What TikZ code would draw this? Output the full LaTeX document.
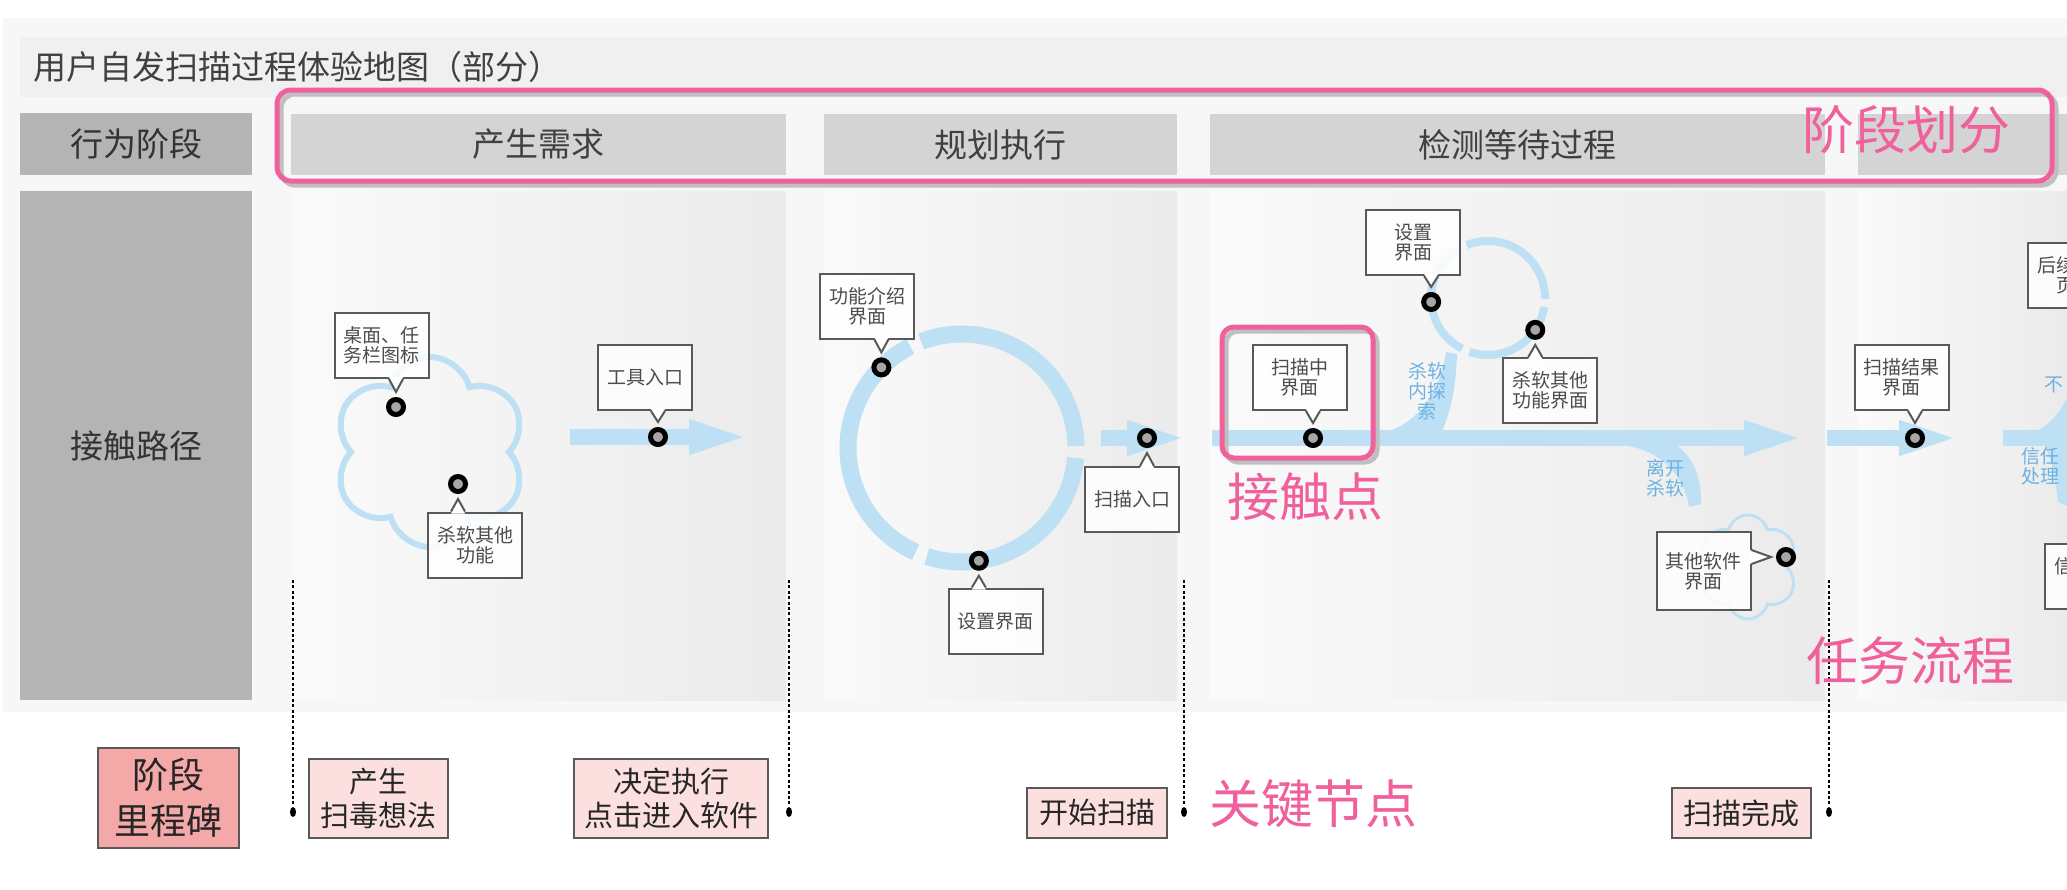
\documentclass[tikz,border=0pt]{standalone}
\usepackage{fontspec}
\setmainfont{Noto Sans CJK SC}
\usetikzlibrary{calc,arrows.meta,shapes.symbols,shapes.geometric}

\definecolor{pinkline}{HTML}{F0609C}
\definecolor{flowblue}{HTML}{BEE0F5}
\definecolor{bluetxt}{HTML}{6CB2E2}
\definecolor{headgray}{HTML}{D4D4D4}
\definecolor{sidegray}{HTML}{B4B4B4}
\definecolor{milefill}{HTML}{FCE0E0}
\definecolor{milehead}{HTML}{F4A8A8}

% callout tails: box, touch point
\newcommand\tailS[2]{%
  \fill[white] ($(#1.south -| #2)+(-7,-2)$) -- ($(#2)+(0,-15)$) -- ($(#1.south -| #2)+(7,-2)$) -- cycle;
  \draw[black!65, line width=1pt] ($(#1.south -| #2)+(-7,0)$) -- ($(#2)+(0,-15)$) -- ($(#1.south -| #2)+(7,0)$);}
\newcommand\tailN[2]{%
  \fill[white] ($(#1.north -| #2)+(-7,2)$) -- ($(#2)+(0,15)$) -- ($(#1.north -| #2)+(7,2)$) -- cycle;
  \draw[black!65, line width=1pt] ($(#1.north -| #2)+(-7,0)$) -- ($(#2)+(0,15)$) -- ($(#1.north -| #2)+(7,0)$);}
\newcommand\tailE[2]{%
  \fill[white] ($(#1.east |- #2)+(-2,-7)$) -- ($(#2)+(-15,0)$) -- ($(#1.east |- #2)+(-2,7)$) -- cycle;
  \draw[black!65, line width=1pt] ($(#1.east |- #2)+(0,-7)$) -- ($(#2)+(-15,0)$) -- ($(#1.east |- #2)+(0,7)$);}

\begin{document}
\begin{tikzpicture}[x=0.5pt,y=-0.5pt,
        bubble/.style={draw=black!65, line width=1pt, fill=white, fill opacity=0.85, text opacity=1,
                text=black!70, minimum width=47pt, minimum height=32.5pt, inner sep=1pt, align=center,
                font=\fontsize{9.5}{10}\selectfont},
        dot/.style={circle, draw=black, line width=2.5pt, fill=black!35, minimum size=7.5pt, inner sep=0pt},
        flow/.style={draw=flowblue, line width=8pt, -{Triangle[length=32pt,width=15pt]}},
        ring/.style={draw=flowblue},
        branch/.style={fill=flowblue},
        bluelabel/.style={text=bluetxt, align=center, font=\fontsize{9.5}{10}\selectfont},
        head/.style={fill=headgray, minimum height=30.5pt, inner sep=0pt, text=black!75, font=\fontsize{16.5}{18}\selectfont},
        side/.style={fill=sidegray, minimum width=116pt, inner sep=0pt, text=black!80, font=\fontsize{16.5}{18}\selectfont},
        panel/.style={left color=black!2, right color=black!8},
        mile/.style={draw=black!65, line width=0.9pt, fill=milefill, align=center, inner sep=0pt,
                text=black!85, font=\fontsize{14.5}{17}\selectfont},
        pinknote/.style={text=pinkline, font=\fontsize{26}{28}\selectfont},
        keyline/.style={line width=0.8pt, dash pattern=on 1.5pt off 1.2pt},
        keydot/.style={ellipse, fill=black, minimum width=3pt, minimum height=5pt, inner sep=0pt}]
                \useasboundingbox (0,0) rectangle (2067,889);
                \clip (0,0) rectangle (2067,889);
                \fill[white] (0,0) rectangle (2067,889);
                \fill[black!3] (3,18) rectangle (2067,712);
                % title
                \fill[black!6] (20,37) rectangle (2067,97);
                \node[anchor=west, text=black!75, font=\fontsize{16.5}{18}\selectfont] (title) at (26,67) {用户自发扫描过程体验地图（部分）};
                % rows
                \node[side, minimum height=31pt] (s1) at (136,144) {行为阶段};
                \node[side, minimum height=254.5pt] (s2) at (136,445.5) {接触路径};
                \node[head, minimum width=247.5pt] (h1) at (538.5,144.5) {产生需求};
                \node[head, minimum width=176.5pt] (h2) at (1000.5,144.5) {规划执行};
                \node[head, minimum width=307.5pt] (h3) at (1517.5,144.5) {检测等待过程};
                \fill[headgray] (1858,114) rectangle (2067,175);
                \fill[panel] (291,191) rectangle (786,700);
                \fill[panel] (824,191) rectangle (1177,700);
                \fill[panel] (1210,191) rectangle (1825,700);
                \fill[panel] (1858,191) rectangle (2067,700);

                % flows
                \node[cloud, cloud puffs=6, aspect=1, draw=flowblue, line width=3pt, minimum width=97pt, minimum height=95pt] (cl1) at (430,452) {};
                \node[cloud, cloud puffs=6, aspect=1, draw=flowblue, line width=1.5pt, minimum width=50pt, minimum height=52pt] (cl2) at (1748,567) {};
                \coordinate (c1) at (962,448);
                \coordinate (c2) at (1488,298);
                \foreach \a/\b in {5/108,114/243,249/359}
                        \draw[ring, line width=8.5pt] ($(c1)+(\a:114)$) arc[start angle=\a, end angle=\b, radius=114];
                \foreach \a/\b in {9/109,117/240,248/361}
                        \draw[ring, line width=4pt] ($(c2)+(\a:57)$) arc[start angle=\a, end angle=\b, radius=57];
                \coordinate (f1a) at (570,437);  \coordinate (f1b) at (753,437);
                \coordinate (f2a) at (1101,438); \coordinate (f2b) at (1191,438);
                \coordinate (f3a) at (1212,438); \coordinate (f3b) at (1808,438);
                \coordinate (f4a) at (1827,438); \coordinate (f4b) at (1963,438);
                \draw[flow] (f1a) -- (f1b);
                \draw[flow] (f2a) -- (f2b);
                \draw[flow] (f3a) -- (f3b);
                \draw[flow] (f4a) -- (f4b);
                \fill[branch] (1390,431) .. controls (1422,418) and (1440,390) .. (1446,352) -- (1457,354) .. controls (1456,388) and (1450,414) .. (1442,431) -- cycle;
                \fill[branch] (1622,445) .. controls (1662,450) and (1684,476) .. (1689,507) -- (1701,504) .. controls (1702,478) and (1692,455) .. (1676,445) -- cycle;
                \fill[branch] (2003,430) rectangle (2075,446);
                \fill[branch] (2036,431) .. controls (2050,425) and (2060,412) .. (2067,398) -- (2075,400) -- (2075,431) -- cycle;
                \fill[branch] (2044,445) .. controls (2053,460) and (2056,485) .. (2058,502) -- (2075,510) -- (2075,445) -- cycle;
                \node[bluelabel] (t1) at (1427,391) {杀软\\内探\\索};
                \node[bluelabel] (t2) at (1665,478) {离开\\杀软};
                \node[bluelabel] (t3) at (2040,466) {信任\\处理};
                \node[bluelabel] (t4) at (2054,385) {不};

                % touch points
                \node[bubble] (b1) at (381.5,345.5) {桌面、任\\务栏图标};
                \node[bubble] (b2) at (475,545) {杀软其他\\功能};
                \node[bubble] (b3) at (645,377.5) {工具入口};
                \node[bubble] (b4) at (867,306) {功能介绍\\界面};
                \node[bubble] (b5) at (995.5,621) {设置界面};
                \node[bubble] (b6) at (1132,499.5) {扫描入口};
                \node[bubble] (b7) at (1299.5,377.5) {扫描中\\界面};
                \node[bubble] (b8) at (1413,242.5) {设置\\界面};
                \node[bubble] (b9) at (1550,390.5) {杀软其他\\功能界面};
                \node[bubble, minimum height=39pt] (b10) at (1703.5,571) {其他软件\\界面};
                \node[bubble] (b11) at (1901.5,377.5) {扫描结果\\界面};
                \node[bubble] (b12) at (2075,275.5) {后续操作\\页面};
                \node[bubble] (b13) at (2092,576.5) {信任处理\\界面};
                \node[dot] (d1) at (396,407) {};
                \node[dot] (d2) at (458,484) {};
                \node[dot] (d3) at (658,437) {};
                \node[dot] (d4) at ($(c1)+(225:114)$) {};
                \node[dot] (d5) at ($(c1)+(81.5:114)$) {};
                \node[dot] (d6) at (1147,438) {};
                \node[dot] (d7) at (1313,438) {};
                \node[dot] (d8) at ($(c2)+(176:57)$) {};
                \node[dot] (d9) at ($(c2)+(34:57)$) {};
                \node[dot] (d10) at (1786,557) {};
                \node[dot] (d11) at (1915,438) {};
                \tailS{b1}{d1} \tailN{b2}{d2} \tailS{b3}{d3} \tailS{b4}{d4}
                \tailN{b5}{d5} \tailN{b6}{d6} \tailS{b7}{d7} \tailS{b8}{d8}
                \tailN{b9}{d9} \tailE{b10}{d10} \tailS{b11}{d11}

                % milestones
                \foreach \x/\n in {293/1,789/2,1184/3,1829/4} {
                        \coordinate (kt\n) at (\x,580);
                        \node[keydot] (kd\n) at (\x,812) {};
                        \draw[keyline] (kt\n) -- (kd\n);
                }
                \node[mile, fill=milehead, minimum width=70.5pt, minimum height=50pt, font=\fontsize{18}{23}\selectfont] (m0) at (168.5,798) {阶段\\里程碑};
                \node[mile, minimum width=69.5pt, minimum height=39.5pt] (m1) at (378.5,798.5) {产生\\扫毒想法};
                \node[mile, minimum width=97pt, minimum height=39.5pt] (m2) at (671,798.5) {决定执行\\点击进入软件};
                \node[mile, minimum width=70pt, minimum height=25pt] (m3) at (1097,813) {开始扫描};
                \node[mile, minimum width=69.5pt, minimum height=25pt] (m4) at (1741.5,813) {扫描完成};

                % notes
                \draw[black!25, line width=2.5pt, rounded corners=7pt] (281,94) rectangle (2056,185);
                \draw[pinkline, line width=2.5pt, rounded corners=7pt] (277,90) rectangle (2052,181);
                \draw[black!25, line width=2.5pt, rounded corners=6pt] (1226,331) rectangle (1377,462);
                \draw[pinkline, line width=2.5pt, rounded corners=6pt] (1222,327) rectangle (1373,458);
                \node[pinknote] (n1) at (1906,130) {阶段划分};
                \node[pinknote] (n2) at (1305,497) {接触点};
                \node[pinknote] (n3) at (1313,804) {关键节点};
                \node[pinknote] (n4) at (1910,661) {任务流程};
        \end{tikzpicture}
\end{document}
